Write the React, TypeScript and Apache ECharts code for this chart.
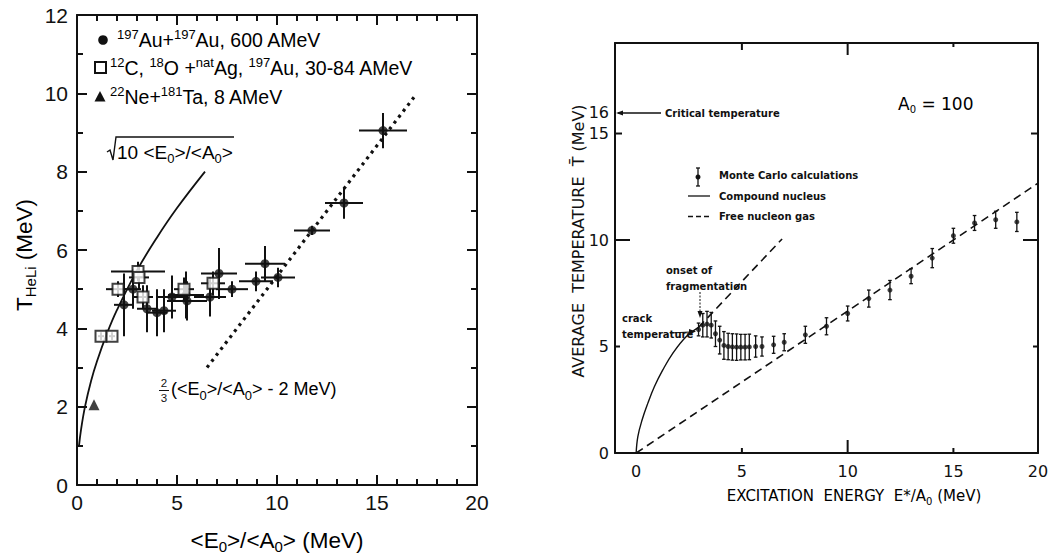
import React, { useEffect, useRef } from "react";
import * as echarts from "echarts";

// ---------- Left panel: T_HeLi versus <E0>/<A0> ----------
// 197Au + 197Au, 600 AMeV (filled circles)
const auE = [2.35, 2.8, 3.5, 4.0, 4.35, 4.75, 5.45, 5.5, 6.65, 7.1, 7.75, 8.95, 9.4, 10.05, 11.75, 13.35, 15.3];
const auT = [4.6, 5.0, 4.5, 4.4, 4.45, 4.8, 4.85, 4.7, 4.8, 5.4, 5.0, 5.2, 5.65, 5.3, 6.5, 7.2, 9.05];
const auErrE = [0.5, 0.4, 0.5, 0.5, 0.6, 0.7, 0.9, 1.0, 0.8, 0.9, 0.8, 0.85, 1.0, 0.85, 0.9, 0.95, 1.2];
const auErrT = [0.8, 0.5, 0.6, 0.6, 0.55, 0.55, 0.6, 0.5, 0.5, 0.65, 0.2, 0.25, 0.45, 0.25, 0.12, 0.4, 0.45];

// 12C, 18O + natAg, 197Au, 30-84 AMeV (open squares)
const coE = [1.2, 1.75, 2.05, 3.05, 3.1, 3.3, 5.35, 6.8];
const coT = [3.8, 3.8, 5.0, 5.45, 5.3, 4.8, 5.0, 5.15];
const coErrE = [0.15, 0.15, 0.6, 1.35, 0.5, 0.5, 0.5, 0.6];
const coErrT = [0.1, 0.1, 0.2, 0.25, 0.3, 0.3, 0.3, 0.3];

// 22Ne + 181Ta, 8 AMeV (filled triangle)
const neE = [0.85];
const neT = [2.05];

// sqrt(10 <E0>/<A0>) curve
const sqrtCurveE = [0.1, 0.2, 0.4, 0.7, 1.0, 1.5, 2.0, 3.0, 4.0, 5.0, 6.4];
const sqrtCurveT = [1.0, 1.41, 2.0, 2.65, 3.16, 3.87, 4.47, 5.48, 6.32, 7.07, 8.0];

// 2/3(<E0>/<A0> - 2 MeV) line
const linearE = [6.5, 16.85];
const linearT = [3.0, 9.9];

// ---------- Right panel: average temperature versus excitation energy ----------
const mcE = [2.95, 3.15, 3.35, 3.55, 3.75, 3.95, 4.15, 4.35, 4.55, 4.75, 4.95, 5.15, 5.35, 5.65, 5.95, 6.5, 7.0, 8.0, 9.0, 10.0, 11.0, 12.0, 13.0, 14.0, 15.0, 16.0, 17.0, 18.0];
const mcT = [5.8, 6.0, 6.05, 6.0, 5.6, 5.3, 5.05, 5.0, 4.98, 4.97, 4.97, 4.97, 4.98, 5.0, 5.0, 5.08, 5.2, 5.55, 5.95, 6.55, 7.25, 7.65, 8.3, 9.15, 10.2, 10.8, 10.95, 10.85];
const mcErr = [0.3, 0.55, 0.6, 0.6, 0.6, 0.65, 0.65, 0.62, 0.62, 0.62, 0.6, 0.6, 0.6, 0.5, 0.45, 0.4, 0.4, 0.4, 0.4, 0.35, 0.4, 0.45, 0.35, 0.45, 0.35, 0.35, 0.4, 0.45];

// compound nucleus (solid) and its dashed continuation above the crack point
const compoundE = [0, 0.08, 0.28, 0.55, 0.86, 1.26, 1.73, 2.36, 2.95];
const compoundT = [0, 0.77, 1.55, 2.33, 3.11, 3.9, 4.68, 5.46, 5.9];
const compoundExtE = [2.95, 6.9];
const compoundExtT = [5.9, 10.05];

// free nucleon gas (dashed)
const gasE = [0, 19];
const gasT = [0, 12.67];

// axis ranges and tick labels
const leftXRange = [0, 20];
const leftYRange = [0, 12];
const rightXRange = [-1, 19];
const rightYRange = [0, 19.25];
const rightXLabels = [0, 5, 10, 15, 19];
const rightYLabels = [0, 5, 10, 15, 16];
// right-panel ticks: [value, length on bottom/left side, length on top/right side]
const rightXTicks = [[5, 5, 7], [10, 13, 12], [15, 5, 4]];
const rightYTicks = [[5, 5, 5], [10, 15, 15], [15, 7, 7]];

const GRID_L = { left: 77, top: 15, width: 400, height: 470 };
const GRID_R = { left: 615, top: 43, width: 423, height: 410 };

const FONT_L = '"Liberation Sans", Arial, Helvetica, sans-serif';
const FONT_R = '"DejaVu Sans", "Liberation Sans", sans-serif';
const INK = "#111";

const zip = (...cols: number[][]) => cols[0].map((_, i) => cols.map((c) => c[i]));

function errorBars(lineWidth: number, cap: number) {
  return (params: any, api: any) => {
    const x = api.value(0);
    const y = api.value(1);
    const dx = api.value(2);
    const dy = api.value(3);
    const style = { stroke: INK, lineWidth };
    const children: any[] = [];
    if (dx > 0) {
      const a = api.coord([x - dx, y]);
      const b = api.coord([x + dx, y]);
      children.push({ type: "line", shape: { x1: a[0], y1: a[1], x2: b[0], y2: b[1] }, style });
    }
    if (dy > 0) {
      const a = api.coord([x, y - dy]);
      const b = api.coord([x, y + dy]);
      children.push({ type: "line", shape: { x1: a[0], y1: a[1], x2: b[0], y2: b[1] }, style });
      if (cap > 0) {
        children.push({ type: "line", shape: { x1: a[0] - cap, y1: a[1], x2: a[0] + cap, y2: a[1] }, style });
        children.push({ type: "line", shape: { x1: b[0] - cap, y1: b[1], x2: b[0] + cap, y2: b[1] }, style });
      }
    }
    return { type: "group", children };
  };
}

// Inward frame ticks along the four sides of the right grid box, as thin filled bars.
function frameTicks(g: any, xr: number[], yr: number[], xs: number[][], ys: number[][], w: number) {
  const out: any[] = [];
  const fx = (v: number) => g.left + ((v - xr[0]) / (xr[1] - xr[0])) * g.width;
  const fy = (v: number) => g.top + g.height - ((v - yr[0]) / (yr[1] - yr[0])) * g.height;
  const bottom = g.top + g.height;
  const right = g.left + g.width;
  const bar = (x: number, y: number, width: number, height: number) => ({
    type: "rect",
    shape: { x, y, width, height },
    style: { fill: INK },
  });
  xs.forEach(([v, a, b]) => {
    const x = fx(v);
    out.push(bar(x - w / 2, bottom - a, w, a));
    out.push(bar(x - w / 2, g.top, w, b));
  });
  ys.forEach(([v, a, b]) => {
    const y = fy(v);
    out.push(bar(g.left, y - w / 2, a, w));
    out.push(bar(right - b, y - w / 2, b, w));
  });
  return out;
}

const richL = {
  n: { fontSize: 19.5, fontFamily: FONT_L, color: INK, lineHeight: 25 },
  s: { fontSize: 13, fontFamily: FONT_L, color: INK, lineHeight: 15, verticalAlign: "top" },
  b: { fontSize: 13, fontFamily: FONT_L, color: INK, lineHeight: 15, verticalAlign: "bottom" },
};
const richAxisL = {
  n: { fontSize: 22.5, fontFamily: FONT_L, color: INK, lineHeight: 27 },
  b: { fontSize: 15, fontFamily: FONT_L, color: INK, lineHeight: 16, verticalAlign: "bottom" },
};
const richR = {
  n: { fontSize: 15, fontFamily: FONT_R, color: INK, lineHeight: 20 },
  b: { fontSize: 10, fontFamily: FONT_R, color: INK, lineHeight: 11, verticalAlign: "bottom" },
};

function txt(x: number, y: number, text: string, extra: any = {}) {
  return {
    type: "text",
    x,
    y,
    style: {
      text,
      fill: INK,
      fontFamily: FONT_R,
      fontSize: 10,
      fontWeight: "bold",
      align: "left",
      verticalAlign: "middle",
      ...extra,
    },
  };
}

function line(x1: number, y1: number, x2: number, y2: number, extra: any = {}) {
  return { type: "line", shape: { x1, y1, x2, y2 }, style: { stroke: INK, lineWidth: 1.3, ...extra } };
}

function annotations(): any[] {
  return [
    // left legend
    { type: "circle", shape: { cx: 103, cy: 40, r: 4.8 }, style: { fill: INK } },
    { type: "rect", shape: { x: 95, y: 62, width: 11, height: 11 }, style: { fill: "#fff", stroke: INK, lineWidth: 2 } },
    { type: "polygon", shape: { points: [[100, 91], [94.5, 101.5], [105.5, 101.5]] }, style: { fill: INK } },
    {
      type: "text", x: 117, y: 40,
      style: { text: "{s|197}{n|Au+}{s|197}{n|Au, 600 AMeV}", rich: richL, align: "left", verticalAlign: "middle" },
    },
    {
      type: "text", x: 110, y: 68,
      style: { text: "{s|12}{n|C, }{s|18}{n|O +}{s|nat}{n|Ag, }{s|197}{n|Au, 30-84 AMeV}", rich: richL, align: "left", verticalAlign: "middle" },
    },
    {
      type: "text", x: 110, y: 97,
      style: { text: "{s|22}{n|Ne+}{s|181}{n|Ta, 8 AMeV}", rich: richL, align: "left", verticalAlign: "middle" },
    },
    // sqrt label
    { type: "polyline", shape: { points: [[107, 152], [110, 150], [113, 160], [116, 137], [234, 137]] }, style: { stroke: INK, lineWidth: 1.4, fill: "none" } },
    {
      type: "text", x: 117, y: 152,
      style: { text: "{n|10 <E}{b|0}{n|>/<A}{b|0}{n|>}", rich: { ...richL, n: { ...richL.n, fontSize: 19 } }, align: "left", verticalAlign: "middle" },
    },
    // 2/3(...) label
    { type: "text", x: 164, y: 383, style: { text: "2", fontSize: 11.5, fontFamily: FONT_L, fill: INK, align: "center", verticalAlign: "middle" } },
    line(159, 390.5, 169, 390.5, { lineWidth: 1 }),
    { type: "text", x: 164, y: 398, style: { text: "3", fontSize: 11.5, fontFamily: FONT_L, fill: INK, align: "center", verticalAlign: "middle" } },
    {
      type: "text", x: 171, y: 389,
      style: { text: "{n|(<E}{b|0}{n|>/<A}{b|0}{n|> - 2 MeV)}", rich: { ...richL, n: { ...richL.n, fontSize: 18 } }, align: "left", verticalAlign: "middle" },
    },
    // left axis names
    {
      type: "text", x: 277, y: 540,
      style: { text: "{n|<E}{b|0}{n|>/<A}{b|0}{n|> (MeV)}", rich: richAxisL, align: "center", verticalAlign: "middle" },
    },
    {
      type: "text", x: 24, y: 255, rotation: Math.PI / 2,
      style: { text: "{n|T}{b|HeLi}{n| (MeV)}", rich: richAxisL, align: "center", verticalAlign: "middle" },
    },

    // right panel annotations
    line(618, 113, 661, 113),
    { type: "polygon", shape: { points: [[616, 113], [623, 110.5], [623, 115.5]] }, style: { fill: INK } },
    txt(665, 113, "Critical temperature"),
    {
      type: "text", x: 898, y: 104,
      style: { text: "{n|A}{b|0}{n| = 100}", rich: { n: { ...richR.n, fontSize: 17 }, b: richR.b }, align: "left", verticalAlign: "middle" },
    },
    // right legend
    line(698, 168, 698, 186),
    line(696, 168, 700, 168),
    line(696, 186, 700, 186),
    { type: "circle", shape: { cx: 698, cy: 177, r: 2.5 }, style: { fill: INK } },
    txt(719, 175, "Monte Carlo calculations"),
    line(688, 196, 710, 196),
    txt(719, 196, "Compound nucleus"),
    line(688, 216.5, 710, 216.5, { lineDash: [5, 3] }),
    txt(719, 216, "Free nucleon gas"),
    // onset of fragmentation
    txt(666, 270, "onset of"),
    txt(666, 286, "fragmentation"),
    line(700, 292, 700, 312, { lineDash: [2, 1.5], lineWidth: 1 }),
    { type: "polygon", shape: { points: [[700, 318], [697.5, 311], [702.5, 311]] }, style: { fill: INK } },
    // crack temperature
    txt(622, 318, "crack"),
    txt(622, 334, "temperature"),
    line(670, 333, 690, 332, { lineWidth: 1 }),
    { type: "polygon", shape: { points: [[696, 331.5], [689, 329], [689, 334.5]] }, style: { fill: INK } },
    // right axis names
    {
      type: "text", x: 854, y: 496,
      style: { text: "{n|EXCITATION  ENERGY  E*/A}{b|0}{n| (MeV)}", rich: richR, align: "center", verticalAlign: "middle" },
    },
    {
      type: "text", x: 578, y: 241, rotation: Math.PI / 2,
      style: { text: "AVERAGE  TEMPERATURE  T\u0304 (MeV)", fontSize: 16, fontFamily: FONT_R, fill: INK, align: "center", verticalAlign: "middle" },
    },
  ];
}

function buildOption() {
  const axisLine = () => ({ show: true, onZero: false, lineStyle: { color: INK, width: 2 } });
  const noSplit = { show: false };
  const tickStyle = () => ({ color: INK, width: 2 });

  const leftX = (position: string) => ({
    gridIndex: 0,
    type: "value",
    position,
    min: leftXRange[0],
    max: leftXRange[1],
    interval: 5,
    axisLine: axisLine(),
    axisTick: { show: true, inside: true, length: 10, lineStyle: tickStyle() },
    minorTick: { show: true, splitNumber: 5, length: 6, lineStyle: tickStyle() },
    axisLabel: { show: position === "bottom", fontSize: 21, fontFamily: FONT_L, color: INK, margin: 7 },
    splitLine: noSplit,
    minorSplitLine: noSplit,
  });
  const leftY = (position: string) => ({
    gridIndex: 0,
    type: "value",
    position,
    min: leftYRange[0],
    max: leftYRange[1],
    interval: 2,
    axisLine: axisLine(),
    axisTick: { show: true, inside: true, length: 10, lineStyle: tickStyle() },
    minorTick: { show: true, splitNumber: 2, length: 6, lineStyle: tickStyle() },
    axisLabel: { show: position === "left", fontSize: 21, fontFamily: FONT_L, color: INK, margin: 9 },
    splitLine: noSplit,
    minorSplitLine: noSplit,
  });
  const rightX = (position: string) => ({
    gridIndex: 1,
    type: "value",
    position,
    min: rightXRange[0],
    max: rightXRange[1],
    axisLine: axisLine(),
    axisTick: { show: false },
    axisLabel: {
      show: position === "bottom",
      customValues: rightXLabels,
      formatter: (v: number) => (v >= 19 ? "20" : String(v)),
      fontSize: 16,
      fontFamily: FONT_R,
      color: INK,
      margin: 10,
    },
    splitLine: noSplit,
  });
  const rightY = (position: string) => ({
    gridIndex: 1,
    type: "value",
    position,
    min: rightYRange[0],
    max: rightYRange[1],
    axisLine: axisLine(),
    axisTick: { show: false },
    axisLabel: {
      show: position === "left",
      customValues: rightYLabels,
      fontSize: 16,
      fontFamily: FONT_R,
      color: INK,
      margin: 6,
    },
    splitLine: noSplit,
  });

  const graphic = [
    ...annotations(),
    ...frameTicks(GRID_R, rightXRange, rightYRange, rightXTicks, rightYTicks, 2),
  ];

  return {
    animation: false,
    backgroundColor: "#fff",
    grid: [GRID_L, GRID_R],
    xAxis: [leftX("bottom"), leftX("top"), rightX("bottom"), rightX("top")],
    yAxis: [leftY("left"), leftY("right"), rightY("left"), rightY("right")],
    graphic,
    series: [
      // ----- left -----
      {
        type: "line", xAxisIndex: 0, yAxisIndex: 0, data: zip(sqrtCurveE, sqrtCurveT),
        smooth: 0.4, symbol: "none", lineStyle: { color: INK, width: 1.8 }, z: 2,
      },
      {
        type: "line", xAxisIndex: 0, yAxisIndex: 0, data: zip(linearE, linearT),
        symbol: "none", lineStyle: { color: INK, width: 3.2, type: [3, 4.5] }, z: 2,
      },
      {
        type: "custom", xAxisIndex: 0, yAxisIndex: 0, data: zip(auE, auT, auErrE, auErrT),
        encode: { x: 0, y: 1 }, renderItem: errorBars(2, 0), clip: false, z: 3,
      },
      {
        type: "custom", xAxisIndex: 0, yAxisIndex: 0, data: zip(coE, coT, coErrE, coErrT),
        encode: { x: 0, y: 1 }, renderItem: errorBars(2, 0), clip: false, z: 3,
      },
      {
        type: "scatter", xAxisIndex: 0, yAxisIndex: 0, data: zip(auE, auT),
        symbol: "circle", symbolSize: 9, itemStyle: { color: INK }, z: 4,
      },
      {
        type: "scatter", xAxisIndex: 0, yAxisIndex: 0, data: zip(coE, coT),
        symbol: "rect", symbolSize: 11, itemStyle: { color: "#fff", borderColor: INK, borderWidth: 2 }, z: 5,
      },
      {
        type: "scatter", xAxisIndex: 0, yAxisIndex: 0, data: zip(neE, neT),
        symbol: "triangle", symbolSize: 11, itemStyle: { color: INK }, z: 5,
      },
      // ----- right -----
      {
        type: "line", xAxisIndex: 2, yAxisIndex: 2, data: zip(compoundE, compoundT),
        smooth: 0.4, symbol: "none", lineStyle: { color: INK, width: 1.4 }, z: 2,
      },
      {
        type: "line", xAxisIndex: 2, yAxisIndex: 2, data: zip(compoundExtE, compoundExtT),
        symbol: "none", lineStyle: { color: INK, width: 1.6, type: [8, 5] }, z: 2,
      },
      {
        type: "line", xAxisIndex: 2, yAxisIndex: 2, data: zip(gasE, gasT),
        symbol: "none", lineStyle: { color: INK, width: 1.6, type: [8, 5] }, z: 2,
      },
      {
        type: "custom", xAxisIndex: 2, yAxisIndex: 2, data: zip(mcE, mcT, mcE.map(() => 0), mcErr),
        encode: { x: 0, y: 1 }, renderItem: errorBars(1.3, 1.8), clip: false, z: 3,
      },
      {
        type: "scatter", xAxisIndex: 2, yAxisIndex: 2, data: zip(mcE, mcT),
        symbol: "circle", symbolSize: 5, itemStyle: { color: INK }, z: 4,
      },
    ],
  };
}

export default function App() {
  const ref = useRef<HTMLDivElement>(null);
  useEffect(() => {
    if (!ref.current) return;
    const chart = echarts.init(ref.current, undefined, { renderer: "svg" });
    chart.setOption(buildOption() as any);
    return () => chart.dispose();
  }, []);
  return (
    <div
      ref={ref}
      style={{ position: "fixed", left: 0, top: 0, width: 1057, height: 557, background: "#fff" }}
    />
  );
}
